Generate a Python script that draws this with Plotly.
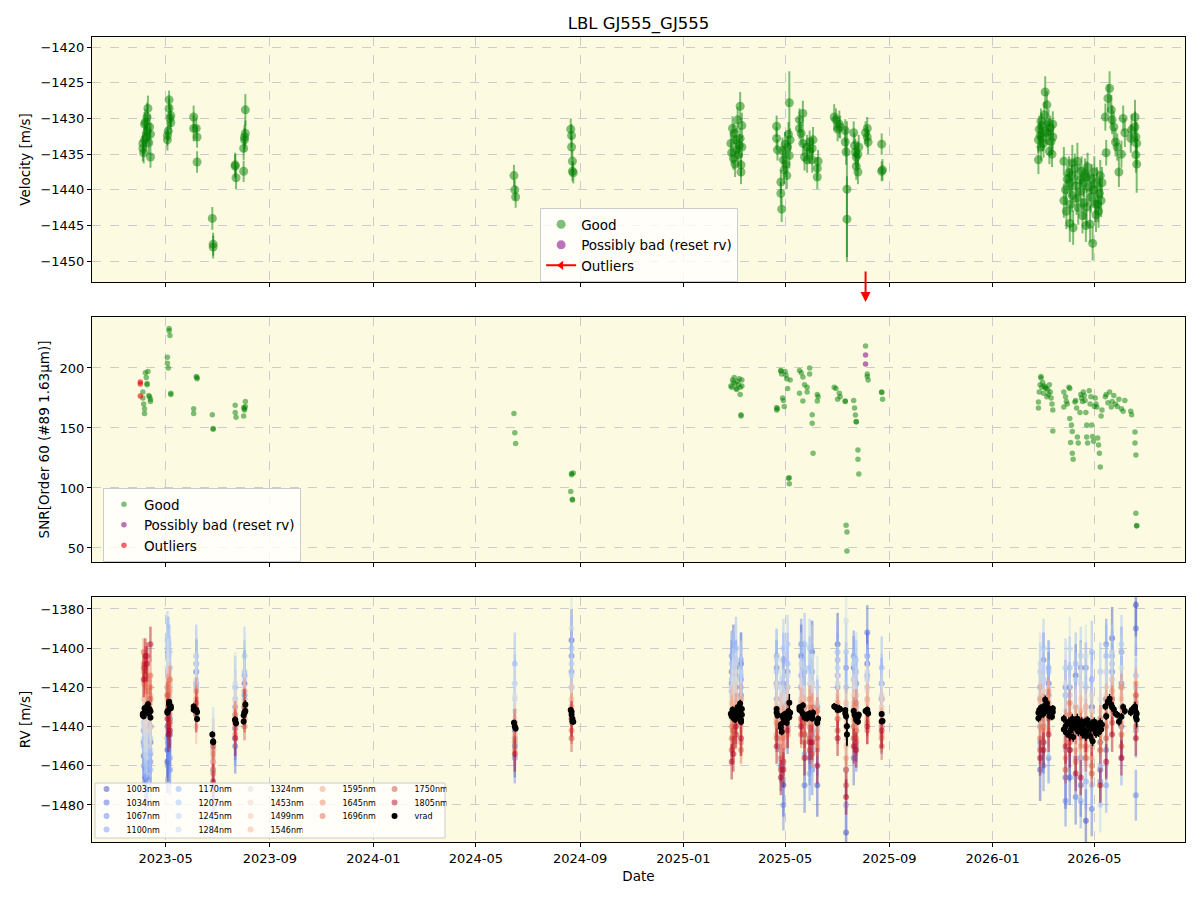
import plotly.graph_objects as go
from plotly.subplots import make_subplots

# ---------------- data ----------------
obs_date = [
    "2023-04-04","2023-04-04","2023-04-05","2023-04-06","2023-04-06","2023-04-07","2023-04-08",
    "2023-04-09","2023-04-09","2023-04-10","2023-04-11","2023-04-12","2023-04-13","2023-04-13",
    "2023-05-03","2023-05-03","2023-05-04","2023-05-05","2023-05-05","2023-05-06","2023-05-07","2023-05-07",
    "2023-06-03","2023-06-03","2023-06-06","2023-06-07","2023-06-07",
    "2023-06-25","2023-06-26","2023-06-26",
    "2023-07-22","2023-07-22","2023-07-23","2023-08-01","2023-08-01","2023-08-02","2023-08-02","2023-08-03","2023-08-03",
    "2024-06-15","2024-06-16","2024-06-17",
    "2024-08-21","2024-08-22","2024-08-22","2024-08-23","2024-08-23","2024-08-24",
    "2025-02-26","2025-02-27","2025-02-28","2025-03-01","2025-03-02","2025-03-03","2025-03-04","2025-03-05","2025-03-06",
    "2025-03-07","2025-03-08","2025-03-09","2025-03-09","2025-03-10","2025-03-10","2025-03-11","2025-03-11",
    "2025-04-21","2025-04-21","2025-04-22","2025-04-26","2025-04-26","2025-04-27","2025-04-28","2025-04-29","2025-04-30",
    "2025-05-01","2025-05-02","2025-05-03","2025-05-04","2025-05-05","2025-05-06","2025-05-06","2025-05-07",
    "2025-05-18","2025-05-18","2025-05-20","2025-05-22","2025-05-22","2025-05-24","2025-05-27","2025-05-27",
    "2025-05-30","2025-05-30","2025-06-02","2025-06-02","2025-06-03","2025-06-08","2025-06-08","2025-06-09",
    "2025-06-28","2025-06-30","2025-07-02","2025-07-04","2025-07-05","2025-07-11","2025-07-11","2025-07-12","2025-07-13",
    "2025-07-13","2025-07-21","2025-07-22","2025-07-23","2025-07-24","2025-07-24","2025-07-26","2025-07-26","2025-07-27",
    "2025-08-04","2025-08-06","2025-08-06","2025-08-07","2025-08-23","2025-08-23","2025-08-24",
    "2026-02-24","2026-02-24","2026-02-25","2026-02-26","2026-02-27","2026-02-27","2026-02-28","2026-03-01","2026-03-02",
    "2026-03-03","2026-03-04","2026-03-05","2026-03-06","2026-03-07","2026-03-08","2026-03-09","2026-03-10","2026-03-11",
    "2026-03-12","2026-03-13","2026-03-13",
    "2026-03-26","2026-03-26","2026-03-28","2026-03-29","2026-03-30","2026-04-01","2026-04-02","2026-04-02","2026-04-03",
    "2026-04-04","2026-04-05","2026-04-05","2026-04-06","2026-04-08","2026-04-09","2026-04-10","2026-04-11","2026-04-12",
    "2026-04-14","2026-04-15","2026-04-16","2026-04-17","2026-04-18","2026-04-19","2026-04-20","2026-04-21","2026-04-22",
    "2026-04-22","2026-04-23","2026-04-25","2026-04-26","2026-04-27","2026-04-28","2026-04-29","2026-04-30","2026-05-01",
    "2026-05-02","2026-05-03","2026-05-04","2026-05-05","2026-05-06","2026-05-07","2026-05-08","2026-05-09","2026-05-10",
    "2026-05-14","2026-05-15","2026-05-17","2026-05-19","2026-05-21","2026-05-22","2026-05-24","2026-05-26","2026-05-28",
    "2026-05-30","2026-06-02","2026-06-04","2026-06-06",
    "2026-06-13","2026-06-14","2026-06-18","2026-06-18","2026-06-19","2026-06-19","2026-06-20","2026-06-20",
]
obs_rv = [
    -1434.2,-1433.5,-1434.8,-1430.8,-1433.0,-1430.5,-1432.6,-1431.8,-1429.8,-1428.6,-1433.4,-1431.2,-1435.4,-1432.2,
    -1432.4,-1433.0,-1431.8,-1427.4,-1428.6,-1430.0,-1429.6,-1430.6,
    -1429.8,-1431.4,-1431.4,-1432.6,-1436.1,
    -1444.0,-1447.6,-1448.0,
    -1436.5,-1436.7,-1438.3,-1434.2,-1437.4,-1432.6,-1433.0,-1432.1,-1428.8,
    -1438.0,-1440.0,-1441.0,
    -1431.5,-1432.4,-1434.0,-1436.0,-1437.4,-1437.6,
    -1433.5,-1434.8,-1431.4,-1435.6,-1432.1,-1436.4,-1433.0,-1434.4,-1430.2,-1435.1,-1433.8,-1428.3,-1432.8,
    -1437.5,-1436.5,-1434.0,-1431.0,
    -1431.1,-1432.8,-1434.4,-1438.9,-1440.5,-1442.7,-1434.5,-1435.8,-1437.2,-1433.6,-1436.4,-1438.0,-1434.0,
    -1432.2,-1427.8,-1435.2,-1433.0,
    -1430.2,-1431.4,-1432.1,-1429.3,-1433.5,-1435.4,-1434.0,-1435.8,-1433.3,-1434.7,-1435.8,-1434.2,-1433.0,
    -1437.0,-1438.2,-1436.0,
    -1429.8,-1430.2,-1431.5,-1430.8,-1431.2,-1431.7,-1433.3,-1434.7,-1439.9,-1444.1,-1432.0,-1433.8,-1434.7,
    -1435.4,-1436.7,-1437.5,-1435.0,-1434.0,-1432.0,-1431.4,-1432.6,-1433.3,-1433.6,-1437.4,-1437.2,
    -1433.0,-1435.8,-1431.5,-1432.4,-1430.4,-1434.0,-1431.0,-1432.8,-1433.5,-1429.5,-1426.3,-1431.8,-1428.1,
    -1432.0,-1430.6,-1434.6,-1431.3,-1433.2,-1435.0,-1432.6,-1430.8,
    -1436.0,-1441.5,-1440.0,-1443.0,-1438.5,-1437.6,-1444.7,-1439.0,-1442.0,-1438.0,-1440.8,-1436.2,-1445.3,
    -1437.0,-1439.5,-1441.2,-1436.0,-1442.5,-1438.6,-1440.2,-1437.4,-1443.6,-1439.0,-1441.8,-1437.8,-1445.0,
    -1442.4,-1438.2,-1436.8,-1439.6,-1444.8,-1441.0,-1438.5,-1447.5,-1440.0,-1437.5,-1442.0,-1443.5,-1439.0,
    -1442.0,-1443.0,-1440.5,-1438.0,-1441.5,-1439.0,
    -1429.8,-1434.8,-1427.2,-1425.8,-1428.8,-1430.2,-1431.2,-1433.3,-1434.0,-1437.5,-1435.0,-1430.0,-1432.0,
    -1432.8,-1431.6,-1429.8,-1431.2,-1432.6,-1435.1,-1436.4,-1433.5,
]
obs_err = [
    1.8,1.6,1.5,1.7,2.0,1.8,1.6,1.5,2.0,1.8,1.6,1.7,1.5,1.6,
    1.4,1.5,1.3,1.3,1.4,1.5,1.6,1.4,
    1.6,1.8,1.5,1.5,1.5,
    1.6,1.6,1.6,
    1.7,1.7,1.6,1.6,1.5,1.7,1.7,1.8,2.2,
    1.5,1.4,1.5,
    1.5,1.6,1.5,1.6,1.4,1.5,
    1.6,1.5,1.7,1.6,1.5,1.8,1.6,1.5,1.8,1.6,1.6,2.0,1.5,1.7,1.6,1.5,1.8,
    1.5,1.6,1.5,1.7,1.6,1.8,1.8,1.6,2.0,1.7,1.8,1.9,1.6,1.7,4.4,1.8,1.6,
    1.6,1.5,1.6,1.8,1.7,1.9,1.7,1.8,1.6,1.7,1.8,1.6,1.8,1.6,1.7,1.6,
    1.8,1.6,1.7,1.9,1.6,1.6,1.8,1.8,9.5,6.0,1.6,1.7,1.8,1.6,1.9,1.7,1.8,1.7,1.6,1.6,1.5,1.7,1.5,1.4,1.5,
    1.8,2.0,1.9,1.7,1.8,1.9,1.7,1.8,2.0,1.8,2.2,1.8,1.9,1.7,1.9,1.8,1.7,1.9,1.8,1.7,1.8,
    2.0,2.4,2.2,2.5,2.1,2.3,2.6,2.0,2.4,2.2,2.3,2.5,2.4,2.1,2.2,2.3,2.6,2.4,2.2,2.3,2.1,2.5,2.0,2.4,2.2,2.3,
    2.5,2.2,2.0,2.3,2.6,2.2,2.1,2.4,2.3,2.2,2.5,2.4,2.2,2.5,2.3,2.4,2.2,2.3,2.2,
    1.9,1.8,2.0,2.4,2.1,2.0,2.2,2.0,1.9,2.1,1.9,1.8,2.0,
    2.0,2.2,2.4,2.2,2.3,2.5,4.0,3.0,
]
obs_snr = [
    180,175,170,166,162,196,192,187,186,197,177,176,174,172,
    209,204,200,233,231,227,179,178,
    166,162,193,192,191,
    161,149,149.5,
    169,163,159,167,160,166,165,172,168,
    162,146,137,
    97,112,111,90,90.5,112.5,
    185,184,190,188,192,187,183,182,189,186,191,178,184,160,161,185,190,
    167,165,166,197.5,198,195,175,173,168,197,194,191,183,108,108.5,103.5,190,
    179,198,196,192.5,172.5,186,180,184,200,195,161,154,129,178,172.5,176,
    184,183,174,179,176,172.5,172,69,63.3,47.5,173,166.7,160.8,155,155.5,131.7,124,111.7,218.3,195,193,190,180,179.5,174,
    171.7,166.7,180,186,191.7,193,184,188,179,185,184,183,176,182,178,186,180,175,170,165,147.5,
    167.5,180,176,172,170,184,183,158,138,152.5,147,129,124,171.7,173,166.7,142.5,137.5,163,178,175,172,180,177,173,163,
    152.5,142.5,137.5,181,170,176,152.5,143,139,168,175,170,167.5,141.7,135.8,129,117.5,160,165,
    176,178,171,180,167.5,172,177,170,168,174,166,164,173,
    164,161,146.7,137.5,127.5,79,68.3,68.8,
]
bad_date = ["2025-08-04", "2025-08-04"]
bad_snr = [210.8, 203.3]
out_date = ["2023-04-01", "2023-04-01", "2023-04-01"]
out_snr = [188.3, 186.7, 176.7]
arrow_date = "2025-08-04"

band_names = ["1003nm", "1034nm", "1067nm", "1100nm", "1170nm", "1207nm", "1245nm", "1284nm", "1324nm",
              "1453nm", "1499nm", "1546nm", "1595nm", "1645nm", "1696nm", "1750nm", "1805nm"]
band_err = [16, 14, 13, 14, 16, 15, 14, 16, 15, 11, 10, 9, 8, 7, 7, 7, 9]
band_dates = ["2023-04-05", "2023-04-09", "2023-04-13", "2023-05-03", "2023-05-06", "2023-06-06", "2023-06-26",
              "2023-07-22", "2023-08-02", "2024-06-16", "2024-08-22", "2025-02-27", "2025-03-04", "2025-03-10",
              "2025-04-21", "2025-04-26", "2025-05-04", "2025-05-20", "2025-05-30", "2025-06-08", "2025-07-02",
              "2025-07-12", "2025-07-24", "2025-08-06", "2025-08-23", "2026-02-26", "2026-03-08", "2026-04-02",
              "2026-04-15", "2026-04-28", "2026-05-08", "2026-05-22", "2026-06-02", "2026-06-19",
              "2023-04-07", "2023-05-04", "2025-03-01", "2025-04-29", "2025-05-24", "2025-06-02", "2025-07-21",
              "2026-03-02", "2026-03-28", "2026-04-09", "2026-04-21", "2026-05-15"]
rv_1003 = [-1455,-1462,-1448,-1458,-1444,-1412,-1470,-1441,-1418,-1450,-1396,-1412,-1420,-1408,-1418,-1452,-1428,
           -1404,-1446,-1470,-1398,-1494,-1442,-1408,-1426,-1462,-1418,-1452,-1470,-1430,-1462,-1395,-1440,-1378,
           -1466,-1452,-1404,-1470,-1430,-1402,-1410,-1448,-1466,-1414,-1488,-1426]
rv_1034 = [-1448,-1466,-1440,-1452,-1436,-1418,-1462,-1450,-1424,-1442,-1404,-1418,-1410,-1424,-1410,-1446,-1440,
           -1420,-1456,-1430,-1414,-1462,-1418,-1392,-1440,-1440,-1424,-1466,-1410,-1482,-1448,-1412,-1418,-1390,
           -1458,-1402,-1414,-1418,-1470,-1444,-1456,-1406,-1420,-1476,-1440,-1452]
rv_1067 = [-1442,-1452,-1458,-1446,-1462,-1408,-1478,-1430,-1414,-1456,-1412,-1404,-1428,-1416,-1426,-1460,-1412,
           -1398,-1440,-1452,-1420,-1410,-1450,-1404,-1418,-1420,-1456,-1420,-1456,-1444,-1468,-1426,-1402,-1475,
           -1450,-1448,-1410,-1480,-1412,-1462,-1404,-1460,-1478,-1430,-1410,-1398]
rv_1100 = [-1460,-1438,-1454,-1440,-1456,-1420,-1458,-1446,-1426,-1446,-1420,-1422,-1414,-1406,-1404,-1448,-1420,
           -1414,-1464,-1442,-1406,-1480,-1430,-1414,-1434,-1448,-1410,-1434,-1478,-1416,-1440,-1404,-1456,-1442,
           -1462,-1398,-1420,-1406,-1454,-1412,-1440,-1416,-1424,-1456,-1468,-1470]
rv_1170 = [-1450,-1444,-1462,-1400,-1410,-1404,-1452,-1420,-1412,-1408,-1400,-1416,-1400,-1420,-1412,-1430,-1408,
           -1420,-1410,-1448,-1402,-1420,-1412,-1420,-1410,-1426,-1412,-1410,-1446,-1402,-1460,-1408,-1420,-1414,
           -1436,-1404,-1408,-1442,-1398,-1430,-1416,-1438,-1452,-1408,-1430,-1404]
rv_1207 = [-1438,-1456,-1446,-1396,-1420,-1412,-1482,-1426,-1404,-1418,-1408,-1408,-1424,-1414,-1420,-1440,-1398,
           -1426,-1400,-1440,-1410,-1402,-1424,-1416,-1418,-1412,-1430,-1424,-1404,-1470,-1412,-1416,-1398,-1420,
           -1452,-1412,-1420,-1400,-1444,-1418,-1428,-1400,-1410,-1466,-1420,-1440]
rv_1245 = [-1446,-1436,-1452,-1410,-1402,-1416,-1444,-1434,-1416,-1426,-1414,-1420,-1412,-1426,-1406,-1458,-1426,
           -1432,-1418,-1428,-1418,-1430,-1406,-1412,-1424,-1450,-1420,-1440,-1418,-1432,-1480,-1402,-1430,-1426,
           -1444,-1398,-1404,-1424,-1410,-1452,-1408,-1430,-1446,-1416,-1458,-1412]
rv_1284 = [-1440,-1450,-1432,-1406,-1426,-1408,-1456,-1418,-1422,-1432,-1390,-1424,-1418,-1412,-1430,-1420,-1414,
           -1408,-1436,-1420,-1424,-1386,-1436,-1426,-1430,-1408,-1440,-1400,-1462,-1424,-1436,-1420,-1410,-1434,
           -1448,-1418,-1416,-1452,-1426,-1404,-1420,-1416,-1432,-1448,-1404,-1424]
rv_1324 = [-1430,-1442,-1436,-1416,-1424,-1418,-1450,-1428,-1420,-1424,-1420,-1426,-1416,-1430,-1418,-1434,-1424,
           -1420,-1428,-1440,-1414,-1446,-1424,-1422,-1426,-1424,-1432,-1430,-1412,-1450,-1426,-1416,-1424,-1428,
           -1438,-1410,-1420,-1426,-1434,-1418,-1430,-1422,-1418,-1436,-1444,-1420]
rv_1453 = [-1434,-1428,-1440,-1420,-1428,-1424,-1448,-1432,-1426,-1436,-1428,-1430,-1422,-1432,-1428,-1438,-1430,
           -1426,-1438,-1432,-1426,-1436,-1432,-1420,-1430,-1428,-1436,-1436,-1426,-1444,-1432,-1424,-1430,-1430,
           -1430,-1426,-1428,-1434,-1430,-1440,-1424,-1432,-1444,-1430,-1438,-1428]
rv_1499 = [-1426,-1420,-1432,-1424,-1418,-1428,-1452,-1438,-1430,-1440,-1432,-1436,-1428,-1440,-1434,-1446,-1428,
           -1430,-1440,-1444,-1430,-1450,-1438,-1428,-1432,-1434,-1426,-1440,-1448,-1432,-1452,-1428,-1434,-1424,
           -1422,-1430,-1434,-1442,-1436,-1428,-1434,-1430,-1436,-1446,-1430,-1436]
rv_1546 = [-1418,-1424,-1428,-1428,-1422,-1440,-1458,-1436,-1434,-1444,-1426,-1428,-1438,-1434,-1440,-1432,-1436,
           -1436,-1430,-1446,-1436,-1428,-1442,-1434,-1440,-1440,-1430,-1444,-1436,-1450,-1440,-1434,-1426,-1436,
           -1420,-1418,-1442,-1438,-1444,-1432,-1430,-1442,-1448,-1438,-1452,-1430]
rv_1595 = [-1412,-1418,-1424,-1426,-1434,-1430,-1462,-1440,-1428,-1446,-1438,-1432,-1444,-1426,-1436,-1448,-1440,
           -1428,-1446,-1438,-1432,-1456,-1440,-1426,-1438,-1426,-1442,-1446,-1432,-1456,-1444,-1422,-1438,-1418,
           -1416,-1436,-1438,-1450,-1432,-1442,-1436,-1434,-1440,-1452,-1436,-1426]
rv_1645 = [-1408,-1416,-1420,-1420,-1428,-1426,-1454,-1444,-1422,-1452,-1430,-1440,-1430,-1448,-1444,-1440,-1432,
           -1438,-1426,-1450,-1428,-1440,-1446,-1436,-1444,-1436,-1422,-1434,-1450,-1440,-1448,-1432,-1420,-1428,
           -1412,-1424,-1446,-1436,-1448,-1430,-1440,-1430,-1456,-1436,-1446,-1440]
rv_1696 = [-1402,-1422,-1414,-1432,-1416,-1422,-1464,-1434,-1436,-1448,-1442,-1446,-1436,-1452,-1438,-1456,-1444,
           -1444,-1436,-1432,-1436,-1462,-1428,-1442,-1446,-1446,-1428,-1428,-1444,-1460,-1436,-1426,-1444,-1440,
           -1406,-1430,-1450,-1446,-1438,-1454,-1432,-1440,-1438,-1458,-1450,-1434]
rv_1750 = [-1410,-1404,-1426,-1424,-1438,-1428,-1450,-1438,-1440,-1438,-1446,-1452,-1444,-1438,-1446,-1462,-1436,
           -1436,-1452,-1446,-1442,-1470,-1448,-1438,-1450,-1452,-1436,-1448,-1440,-1464,-1452,-1438,-1450,-1424,
           -1414,-1440,-1442,-1458,-1444,-1436,-1446,-1448,-1462,-1442,-1456,-1446]
rv_1805 = [-1416,-1408,-1398,-1436,-1442,-1434,-1468,-1446,-1430,-1454,-1436,-1458,-1440,-1446,-1450,-1466,-1442,
           -1440,-1448,-1460,-1446,-1476,-1452,-1440,-1442,-1456,-1444,-1452,-1466,-1446,-1470,-1444,-1456,-1446,
           -1404,-1444,-1454,-1462,-1456,-1448,-1450,-1452,-1450,-1464,-1444,-1458]

band_rv = [rv_1003, rv_1034, rv_1067, rv_1100, rv_1170, rv_1207, rv_1245, rv_1284, rv_1324,
           rv_1453, rv_1499, rv_1546, rv_1595, rv_1645, rv_1696, rv_1750, rv_1805]

n = len(obs_date)
assert len(obs_rv) == n and len(obs_err) == n and len(obs_snr) == n, (n, len(obs_rv), len(obs_err), len(obs_snr))
for r in band_rv:
    assert len(r) == len(band_dates), len(r)

# ---------------- style ----------------
FONT = "DejaVu Sans"
band_colors = ["#3b4cc0", "#4d68da", "#6282ea", "#789afb", "#8db0fe", "#a1c2fb", "#b5d0f3", "#c9d9e7",
               "#dddddd", "#ecd3c6", "#f4c4ad", "#f7b294", "#f49d7b", "#ed8464", "#e16952", "#cf4941", "#b40426"]
# legend row (matplotlib ncol=5 column-major layout: columns of 4,4,4,3,3 entries)
band_legend_row = [0, 1, 2, 3, 0, 1, 2, 3, 0, 1, 2, 3, 0, 1, 2, 0, 1]
vrad_legend_row = 2


def rgba(hexc, a):
    h = hexc.lstrip("#")
    return "rgba(%d,%d,%d,%.2f)" % (int(h[0:2], 16), int(h[2:4], 16), int(h[4:6], 16), a)


GREEN = "rgba(0,128,0,0.5)"
PURPLE = "rgba(128,0,128,0.55)"
RED = "rgba(235,0,0,0.6)"

fig = make_subplots(rows=3, cols=1, shared_xaxes=True, vertical_spacing=35 / 805)

# --- top panel ---
fig.add_trace(go.Scatter(x=obs_date, y=obs_rv, mode="markers", name="Good",
                         marker=dict(size=9, color=GREEN, line=dict(width=0)),
                         error_y=dict(type="data", array=obs_err, color=GREEN, thickness=2, width=0),
                         legend="legend"), row=1, col=1)
fig.add_trace(go.Scatter(x=[None], y=[None], mode="markers", name="Possibly bad (reset rv)",
                         marker=dict(size=9, color=PURPLE), legend="legend"), row=1, col=1)
fig.add_trace(go.Scatter(x=[None], y=[None], mode="lines+markers", name="Outliers",
                         line=dict(color="red", width=2),
                         marker=dict(symbol="triangle-left", size=8, color="red"), legend="legend"), row=1, col=1)

# --- middle panel ---
fig.add_trace(go.Scatter(x=obs_date, y=obs_snr, mode="markers", name="Good",
                         marker=dict(size=5.5, color=GREEN), legend="legend2"), row=2, col=1)
fig.add_trace(go.Scatter(x=bad_date, y=bad_snr, mode="markers", name="Possibly bad (reset rv)",
                         marker=dict(size=5.5, color=PURPLE), legend="legend2"), row=2, col=1)
fig.add_trace(go.Scatter(x=out_date, y=out_snr, mode="markers", name="Outliers",
                         marker=dict(size=5.5, color=RED), legend="legend2"), row=2, col=1)

# --- bottom panel ---
row_legend = ["legend3", "legend4", "legend5", "legend6"]
for i, (name, vals) in enumerate(zip(band_names, band_rv)):
    fig.add_trace(go.Scatter(x=band_dates, y=vals, mode="markers", name=name,
                             marker=dict(size=6, color=rgba(band_colors[i], 0.5)),
                             error_y=dict(type="constant", value=band_err[i], color=rgba(band_colors[i], 0.45),
                                          thickness=2.5, width=0),
                             legend=row_legend[band_legend_row[i]]), row=3, col=1)
fig.add_trace(go.Scatter(x=obs_date, y=obs_rv, mode="markers", name="vrad",
                         marker=dict(size=6, color="black"),
                         error_y=dict(type="data", array=obs_err, color="black", thickness=1.5, width=0),
                         legend=row_legend[vrad_legend_row]), row=3, col=1)

# ---------------- layout ----------------
axis_common = dict(showline=True, linecolor="black", linewidth=1, mirror=True,
                   ticks="outside", ticklen=4, tickcolor="black",
                   showgrid=True, gridcolor="#cccccc", griddash="dash", gridwidth=1,
                   zeroline=False, tickfont=dict(size=13, color="black"))
for r in (1, 2, 3):
    fig.update_xaxes(**axis_common, row=r, col=1)
    fig.update_yaxes(**axis_common, row=r, col=1)

fig.update_xaxes(range=["2023-02-03", "2026-08-16"], tickformat="%Y-%m", dtick="M4", tick0="2023-01-01")
fig.update_xaxes(title=dict(text="Date", font=dict(size=13.5, color="black"), standoff=6), row=3, col=1)

fig.update_yaxes(range=[-1452.9, -1418.6], dtick=5, tick0=-1420,
                 title=dict(text="Velocity [m/s]", font=dict(size=13.5, color="black"), standoff=6), row=1, col=1)
fig.update_yaxes(range=[38.3, 242.5], dtick=50, tick0=0,
                 title=dict(text="SNR[Order 60 (#89 1.63μm)]", font=dict(size=13.5, color="black"), standoff=6),
                 row=2, col=1)
fig.update_yaxes(range=[-1498.9, -1373.9], dtick=20, tick0=-1380,
                 title=dict(text="RV [m/s]", font=dict(size=13.5, color="black"), standoff=6), row=3, col=1)

legend_box = dict(bgcolor="rgba(255,255,255,0.8)", bordercolor="#cccccc", borderwidth=1,
                  font=dict(size=13.5, color="black", family=FONT))
row_leg = dict(orientation="h", bgcolor="rgba(0,0,0,0)", borderwidth=0, entrywidth=27, entrywidthmode="pixels",
               font=dict(size=8, color="black", family=FONT), xanchor="left", yanchor="middle", x=-0.005,
               itemclick=False, itemdoubleclick=False)

fig.update_layout(
    width=1200, height=900,
    margin=dict(l=92, r=15, t=37, b=58),
    paper_bgcolor="white", plot_bgcolor="#fcfbe2",
    font=dict(family=FONT, size=13, color="black"),
    title=dict(text="LBL GJ555_GJ555", x=0.5, xref="paper", xanchor="center",
               y=1 - 23 / 900, yref="container", yanchor="middle", font=dict(size=16.5, color="black")),
    showlegend=True,
    legend=dict(**legend_box, x=0.41, y=0.7876, xanchor="left", yanchor="top"),
    legend2=dict(**legend_box, x=0.010, y=0.4398, xanchor="left", yanchor="top"),
    legend3=dict(**row_leg, y=(842 - 789) / 805),
    legend4=dict(**row_leg, y=(842 - 802.5) / 805),
    legend5=dict(**row_leg, y=(842 - 816) / 805),
    legend6=dict(**row_leg, y=(842 - 829.5) / 805),
    shapes=[dict(type="rect", xref="paper", yref="paper",
                 x0=(95 - 92) / 1093, x1=(445 - 92) / 1093, y0=(842 - 838) / 805, y1=(842 - 783) / 805,
                 fillcolor="rgba(255,255,255,0.8)", line=dict(color="#cccccc", width=1), layer="above")],
    annotations=[dict(x=arrow_date, xref="x", y=(842 - 302) / 805, yref="paper", text="",
                      showarrow=True, arrowhead=2, arrowsize=1, arrowwidth=2, arrowcolor="red",
                      ax=0, ay=-32)],
)

fig.write_html("out.html")
